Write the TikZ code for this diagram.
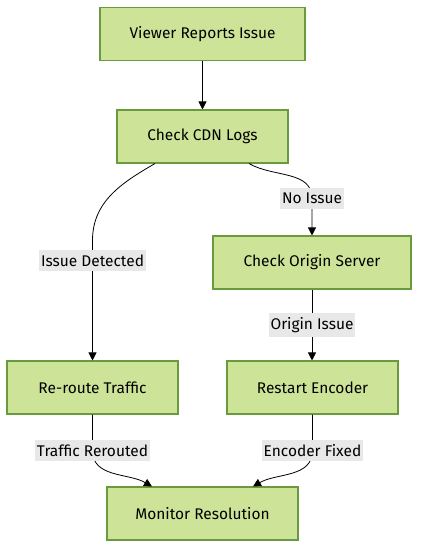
\documentclass[tikz,border=0pt]{standalone}
\usepackage{fontspec}
\setmainfont{Fira Sans}
\usetikzlibrary{arrows.meta,calc}

\definecolor{boxfill}{HTML}{CDE498}
\definecolor{boxline}{HTML}{6A9A3E}
\definecolor{labelbg}{HTML}{E8E8E8}

\begin{document}
\begin{tikzpicture}[x=0.75pt,y=0.75pt,
    procbox/.style={draw=boxline, fill=boxfill, line width=0.8pt,
        minimum height=39.75pt, inner sep=0pt, font=\fontsize{11.6}{13}\selectfont},
    edgelabel/.style={fill=labelbg, inner xsep=1.5pt, inner ysep=3.5pt, font=\fontsize{11.6}{13}\selectfont},
    flow/.style={draw=black, line width=0.6pt, -{Triangle[length=6pt,width=6pt]}}]
    % Frame
    \useasboundingbox (0,0) rectangle (427,-558);

    % Nodes
    \node[procbox, minimum width=153.75pt] (viewer) at (202.5,-34) {Viewer Reports Issue};
    \node[procbox, minimum width=128.25pt] (cdn) at (202.5,-136.5) {Check CDN Logs};
    \node[procbox, minimum width=148.5pt] (origin) at (312,-262.5) {Check Origin Server};
    \node[procbox, minimum width=128.25pt] (reroute) at (92.5,-387.5) {Re-route Traffic};
    \node[procbox, minimum width=128.25pt] (encoder) at (312.5,-387.5) {Restart Encoder};
    \node[procbox, minimum width=143.25pt] (monitor) at (202.5,-513.5) {Monitor Resolution};

    % Edges
    \draw[flow] (viewer) -- (cdn);
    \draw[flow] ($(cdn.south)+(-47.5,0)$) to[out=-150, in=90] ($(reroute.north)+(0,120)$)
        -- node[edgelabel, pos=0.17] {Issue Detected} (reroute.north);
    \draw[flow] ($(cdn.south)+(46.5,0)$) to[out=-30, in=90] ($(origin.north)+(0,37)$)
        node[edgelabel] {No Issue} -- (origin.north);
    \draw[flow] (origin.south) -- node[edgelabel] {Origin Issue} (origin.south |- encoder.north);
    \draw[flow] (reroute.south) -- ++(0,-36) node[edgelabel] {Traffic Rerouted}
        to[out=-90, in=150] ($(monitor.north)+(-50.5,0)$);
    \draw[flow] (encoder.south) -- ++(0,-36) node[edgelabel] {Encoder Fixed}
        to[out=-90, in=30] ($(monitor.north)+(50.5,0)$);
\end{tikzpicture}
\end{document}
